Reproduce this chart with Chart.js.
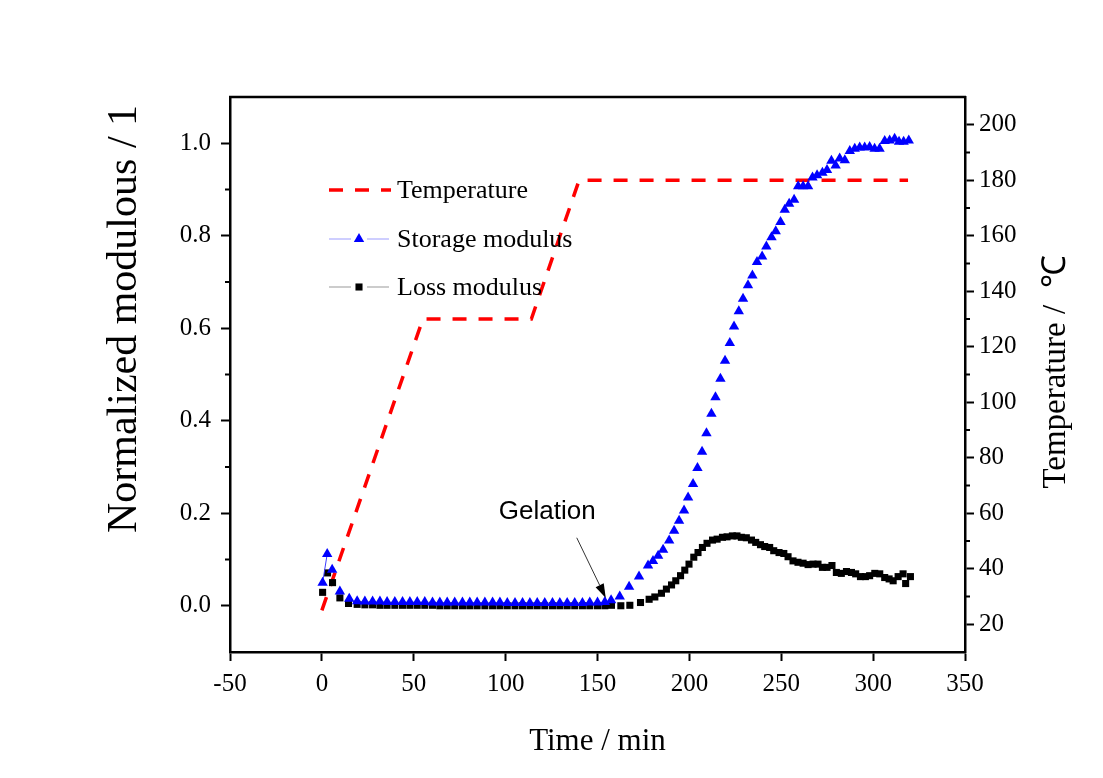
<!DOCTYPE html>
<html><head><meta charset="utf-8">
<script src="https://cdn.jsdelivr.net/npm/chart.js@4.4.1/dist/chart.umd.min.js"></script>
<style>html,body{margin:0;padding:0;background:#fff;}canvas{display:block;}</style>
</head><body>
<canvas id="c" width="1103" height="778"></canvas>
<script>
// ---- data ----
const tempTime  = [0, 55, 114, 140, 319];
const tempValue = [25, 130, 130, 180, 180];

const storageTime = [0.4, 2.9, 5.6, 9.8, 14.9, 19.2, 23.4, 27.6, 31.6, 35.5, 39.7, 43.9, 47.9, 51.9, 56, 60.2, 64.2, 68.2, 72.3, 76.5, 80.5, 84.5, 88.7, 92.9, 96.9, 100.9, 105.1, 109.2, 113.2, 117.2, 121.3, 125.5, 129.5, 133.5, 137.6, 141.8, 145.8, 150, 154, 157.4, 162.1, 167.2, 172.6, 177.5, 180.2, 183, 185.7, 189, 191.7, 194.4, 197.1, 199.3, 202, 204.4, 206.9, 209.3, 212, 214.2, 216.9, 219.4, 222, 224.3, 226.9, 229.2, 231.9, 234.3, 236.8, 239.6, 241.9, 244.7, 247, 249.6, 251.9, 254.3, 257, 259.2, 261.9, 264.6, 267, 269.5, 272.4, 274.9, 277.3, 279.6, 281.8, 284.6, 287.3, 290, 292.7, 295.4, 298.1, 300.8, 303.5, 306.3, 309, 311.7, 314.1, 316.6, 319.4];
const storageValue = [0.05, 0.112, 0.078, 0.031, 0.015, 0.010, 0.009, 0.009, 0.009, 0.008, 0.008, 0.008, 0.008, 0.008, 0.008, 0.007, 0.007, 0.007, 0.007, 0.007, 0.007, 0.007, 0.007, 0.007, 0.007, 0.006, 0.006, 0.006, 0.006, 0.006, 0.006, 0.006, 0.006, 0.006, 0.006, 0.006, 0.007, 0.007, 0.008, 0.012, 0.02, 0.041, 0.063, 0.087, 0.097, 0.108, 0.121, 0.141, 0.162, 0.184, 0.206, 0.234, 0.263, 0.298, 0.333, 0.373, 0.415, 0.451, 0.491, 0.530, 0.568, 0.604, 0.637, 0.664, 0.693, 0.714, 0.743, 0.755, 0.777, 0.797, 0.810, 0.830, 0.856, 0.869, 0.878, 0.907, 0.907, 0.907, 0.926, 0.931, 0.936, 0.942, 0.962, 0.952, 0.967, 0.963, 0.983, 0.988, 0.991, 0.991, 0.992, 0.988, 0.988, 1.005, 1.006, 1.010, 1.003, 1.003, 1.006];

const lossTime = [0.4, 3.1, 5.8, 9.8, 14.5, 19.2, 23.4, 27.6, 31.6, 35.5, 39.7, 43.9, 47.9, 51.9, 56, 60.2, 64.2, 68.2, 72.3, 76.5, 80.5, 84.5, 88.7, 92.9, 96.9, 100.9, 105.1, 109.2, 113.2, 117.2, 121.3, 125.5, 129.5, 133.5, 137.6, 141.8, 145.8, 150, 154, 157.6, 162.7, 167.6, 173.4, 178.1, 181.2, 184.8, 187.5, 190.3, 192.6, 195.2, 197.5, 199.8, 202.4, 204.7, 207.1, 209.6, 212.6, 215.1, 218, 220.5, 223.4, 225.9, 228.3, 231, 233.8, 236.1, 238.7, 241, 243.7, 245.9, 248.8, 251.4, 253.7, 256.4, 259.1, 261.9, 264.6, 267.3, 270, 272.4, 274.9, 277.6, 280, 282.7, 285.5, 288.2, 290.5, 293.1, 295.8, 298.1, 300.9, 303.6, 306.3, 308.7, 310.9, 313.6, 316.3, 317.7, 320.3];
const lossValue = [0.029, 0.071, 0.05, 0.017, 0.005, 0.003, 0.002, 0.002, 0.001, 0.001, 0.001, 0.001, 0.001, 0.001, 0.001, 0.001, 0.0, 0.0, 0.0, 0.0, 0.0, 0.0, 0.0, 0.0, 0.0, 0.0, 0.0, 0.0, 0.0, 0.0, 0.0, 0.0, 0.0, 0.0, 0.0, 0.0, 0.0, 0.0, 0.0, 0.001, 0.0, 0.001, 0.007, 0.014, 0.019, 0.027, 0.036, 0.045, 0.054, 0.065, 0.077, 0.09, 0.105, 0.115, 0.126, 0.135, 0.142, 0.144, 0.148, 0.149, 0.151, 0.151, 0.148, 0.147, 0.142, 0.137, 0.132, 0.128, 0.126, 0.119, 0.115, 0.113, 0.106, 0.097, 0.094, 0.092, 0.089, 0.09, 0.09, 0.083, 0.083, 0.087, 0.072, 0.07, 0.074, 0.072, 0.069, 0.063, 0.063, 0.065, 0.07, 0.069, 0.061, 0.058, 0.054, 0.063, 0.069, 0.048, 0.063];

const xTicks = [-50, 0, 50, 100, 150, 200, 250, 300, 350];
const leftTicks = [0.0, 0.2, 0.4, 0.6, 0.8, 1.0];
const leftMinor = [0.1, 0.3, 0.5, 0.7, 0.9];
const rightTicks = [20, 40, 60, 80, 100, 120, 140, 160, 180, 200];
const rightMinor = [30, 50, 70, 90, 110, 130, 150, 170, 190];

const xTitle = 'Time / min';
const leftTitle = 'Normalized modulous / 1';
const rightTitle = 'Temperature /  \u2103';
const gelationLabel = 'Gelation';
const gelationText = {x: 96.3, y: 0.203};
const gelationFrom = {x: 138.7, y: 0.147};
const gelationTip = {x: 154.5, y: 0.017};

// ---- build ----
const pts = (xs, ys) => xs.map((x, i) => ({x: x, y: ys[i]}));
const SERIF = "'Liberation Serif','Times New Roman',serif";
const SANS = "'Liberation Sans',Arial,sans-serif";

const decor = {
  id: 'decor',
  afterDraw(chart) {
    const ctx = chart.ctx, a = chart.chartArea;
    const sx = chart.scales.x, sy = chart.scales.y, sy2 = chart.scales.y2;
    ctx.save();
    // top frame line
    ctx.strokeStyle = '#000'; ctx.lineWidth = 2.5;
    ctx.beginPath(); ctx.moveTo(a.left - 1, a.top); ctx.lineTo(a.right + 1, a.top); ctx.stroke();
    // minor ticks
    ctx.lineWidth = 2;
    leftMinor.forEach(v => { const y = sy.getPixelForValue(v); ctx.beginPath(); ctx.moveTo(a.left, y); ctx.lineTo(a.left - 5, y); ctx.stroke(); });
    rightMinor.forEach(v => { const y = sy2.getPixelForValue(v); ctx.beginPath(); ctx.moveTo(a.right, y); ctx.lineTo(a.right + 5, y); ctx.stroke(); });

    // axis titles
    ctx.fillStyle = '#000';
    ctx.textAlign = 'center'; ctx.textBaseline = 'middle';
    ctx.font = '31px ' + SERIF;
    ctx.fillText(xTitle, (a.left + a.right) / 2 + 0, 742);
    ctx.save(); ctx.translate(125, 319); ctx.rotate(-Math.PI / 2);
    ctx.font = '42px ' + SERIF; ctx.fillText(leftTitle, 0, 0); ctx.restore();
    ctx.save(); ctx.translate(1056, 372); ctx.rotate(-Math.PI / 2);
    ctx.font = '33px ' + SERIF; ctx.fillText(rightTitle, 0, 0); ctx.restore();

    // legend
    const ds = chart.data.datasets;
    const lx = a.left + 99, rows = [190, 239, 287];
    const order = [2, 0, 1];
    order.forEach((di, r) => {
      const d = ds[di], y = rows[r];
      if (di === 2) {
        ctx.strokeStyle = d.borderColor; ctx.lineWidth = d.borderWidth; ctx.setLineDash(d.borderDash);
        ctx.beginPath(); ctx.moveTo(lx, y); ctx.lineTo(lx + 62, y); ctx.stroke(); ctx.setLineDash([]);
      } else {
        ctx.strokeStyle = d.legendLine; ctx.lineWidth = 1.2;
        ctx.beginPath(); ctx.moveTo(lx, y); ctx.lineTo(lx + 22, y); ctx.moveTo(lx + 38, y); ctx.lineTo(lx + 60, y); ctx.stroke();
        ctx.fillStyle = d.pointBackgroundColor;
        ctx.beginPath();
        if (d.pointStyle === 'triangle') {
          const rr = d.pointRadius;
          ctx.moveTo(lx + 30, y - rr); ctx.lineTo(lx + 30 + rr * 0.866, y + rr / 2); ctx.lineTo(lx + 30 - rr * 0.866, y + rr / 2);
        } else {
          const h = d.pointRadius * Math.SQRT1_2;
          ctx.rect(lx + 30 - h, y - h, 2 * h, 2 * h);
        }
        ctx.closePath(); ctx.fill();
      }
      ctx.fillStyle = '#000'; ctx.textAlign = 'left'; ctx.textBaseline = 'middle';
      ctx.font = '26px ' + SERIF;
      ctx.fillText(d.label, lx + 68, y + 1);
    });

    // gelation annotation
    ctx.font = '26px ' + SANS; ctx.textAlign = 'left'; ctx.textBaseline = 'middle'; ctx.fillStyle = '#000';
    ctx.fillText(gelationLabel, sx.getPixelForValue(gelationText.x), sy.getPixelForValue(gelationText.y));
    const x0 = sx.getPixelForValue(gelationFrom.x), y0 = sy.getPixelForValue(gelationFrom.y);
    const x1 = sx.getPixelForValue(gelationTip.x), y1 = sy.getPixelForValue(gelationTip.y);
    const ang = Math.atan2(y1 - y0, x1 - x0), L = 14, W = 4.5;
    const bx = x1 - L * Math.cos(ang), by = y1 - L * Math.sin(ang);
    ctx.strokeStyle = '#333'; ctx.lineWidth = 1;
    ctx.beginPath(); ctx.moveTo(x0, y0); ctx.lineTo(bx, by); ctx.stroke();
    ctx.fillStyle = '#000';
    ctx.beginPath(); ctx.moveTo(x1, y1);
    ctx.lineTo(bx + W * Math.sin(ang), by - W * Math.cos(ang));
    ctx.lineTo(bx - W * Math.sin(ang), by + W * Math.cos(ang));
    ctx.closePath(); ctx.fill();
    ctx.restore();
  }
};

const axisCommon = (extra) => Object.assign({
  type: 'linear',
  grid: {drawOnChartArea: false, drawTicks: true, tickLength: 9, tickWidth: 2, tickColor: '#000', color: '#000'},
  border: {display: true, color: '#000', width: 2.5},
}, extra);

new Chart(document.getElementById('c'), {
  type: 'scatter',
  data: {
    datasets: [
      {
        label: 'Storage modulus', data: pts(storageTime, storageValue), yAxisID: 'y',
        pointStyle: 'triangle', pointRadius: 6, pointBackgroundColor: '#0000ff', pointBorderColor: '#0000ff', pointBorderWidth: 0,
        showLine: true, borderWidth: 1, borderColor: '#3b3bff', legendLine: '#9d9dff',
        segment: {borderColor: c => c.p0DataIndex === 0 ? '#3b3bff' : 'rgba(0,0,0,0)'},
        order: 1
      },
      {
        label: 'Loss modulus', data: pts(lossTime, lossValue), yAxisID: 'y',
        pointStyle: 'rect', pointRadius: 5, pointBackgroundColor: '#000', pointBorderColor: '#000', pointBorderWidth: 0,
        showLine: false, borderColor: '#000', legendLine: '#999999',
        order: 2
      },
      {
        label: 'Temperature', data: pts(tempTime, tempValue), yAxisID: 'y2',
        showLine: true, pointRadius: 0, borderColor: '#ff0000', borderWidth: 3.5, borderDash: [14, 12],
        order: 3
      }
    ]
  },
  options: {
    responsive: false, animation: false,
    layout: {padding: {top: 97, left: 0, right: 0, bottom: 0}},
    plugins: {legend: {display: false}, tooltip: {enabled: false}},
    scales: {
      x: axisCommon({
        position: 'bottom', min: -50, max: 350,
        afterBuildTicks: s => { s.ticks = xTicks.map(v => ({value: v})); },
        afterFit: s => { s.height = 126; },
        ticks: {color: '#000', font: {family: SERIF, size: 25}, padding: 8, maxRotation: 0, autoSkip: false}
      }),
      y: axisCommon({
        position: 'left', min: -0.1, max: 1.1,
        afterBuildTicks: s => { s.ticks = leftTicks.map(v => ({value: v})); },
        afterFit: s => { s.width = 230; },
        ticks: {color: '#000', font: {family: SERIF, size: 25}, padding: 10, autoSkip: false, callback: v => Number(v).toFixed(1)}
      }),
      y2: axisCommon({
        position: 'right', min: 10, max: 210,
        afterBuildTicks: s => { s.ticks = rightTicks.map(v => ({value: v})); },
        afterFit: s => { s.width = 138; },
        ticks: {color: '#000', font: {family: SERIF, size: 25}, padding: 5, autoSkip: false}
      })
    }
  },
  plugins: [decor]
});
</script>
</body></html>
